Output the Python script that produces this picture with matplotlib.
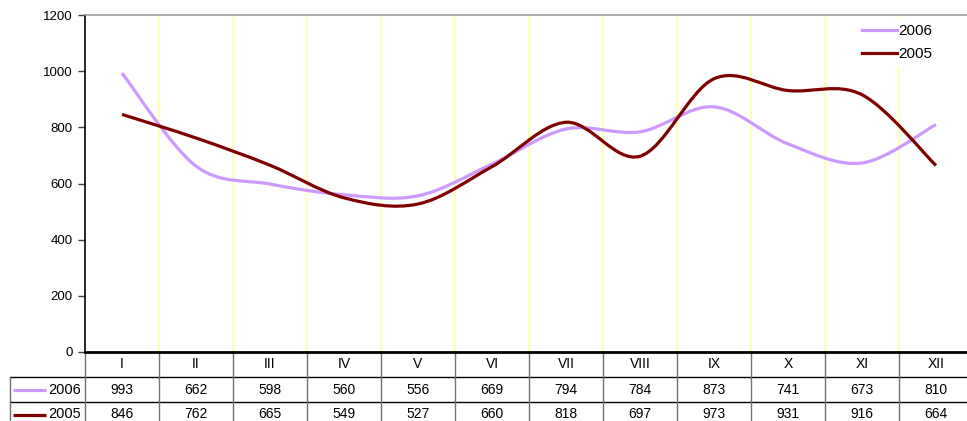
import matplotlib
matplotlib.use("Agg")
import matplotlib.pyplot as plt
import matplotlib.transforms as mtransforms
import numpy as np
from matplotlib.path import Path
from matplotlib.patches import PathPatch
from matplotlib.lines import Line2D

plt.rcParams['font.family'] = ['Liberation Sans', 'DejaVu Sans']

months = ['I', 'II', 'III', 'IV', 'V', 'VI', 'VII', 'VIII', 'IX', 'X', 'XI', 'XII']
series_names = ['2006', '2005']
vals_2006 = [993, 662, 598, 560, 556, 669, 794, 784, 873, 741, 673, 810]
vals_2005 = [846, 762, 665, 549, 527, 660, 818, 697, 973, 931, 916, 664]
colors = ['#cc99ff', '#800000']


def smooth_path(xs, ys):
    # bezier path through the points, like excel "smoothed line"
    pts = np.column_stack([xs, ys]).astype(float)
    n = len(pts)
    verts = [pts[0]]
    codes = [Path.MOVETO]
    for i in range(n - 1):
        p0 = pts[i - 1] if i > 0 else pts[i]
        p1 = pts[i]
        p2 = pts[i + 1]
        p3 = pts[i + 2] if i + 2 < n else pts[i + 1]
        c1 = p1 + (p2 - p0) / 6.0
        c2 = p2 - (p3 - p1) / 6.0
        verts += [c1, c2, p2]
        codes += [Path.CURVE4] * 3
    return Path(verts, codes)


W, H = 967, 421
fig = plt.figure(figsize=(W / 100, H / 100), dpi=100)
ax = fig.add_axes([85 / W, 1 - 352 / H, 888 / W, 337 / H])

x = np.arange(len(months))
for vals, c in zip([vals_2006, vals_2005], colors):
    patch = PathPatch(smooth_path(x, vals), facecolor='none', edgecolor=c, lw=2.3,
                      capstyle='butt', joinstyle='round', zorder=3)
    ax.add_patch(patch)

ax.set_xlim(-0.5, len(months) - 0.5)
ax.set_ylim(0, 1200)
ax.set_yticks(range(0, 1201, 200))
ax.set_xticks([])
for b in np.arange(0.5, len(months) - 0.5, 1):
    ax.axvline(b, color='#ffffaa', lw=1.3, zorder=1)

ax.spines['right'].set_visible(False)
ax.spines['top'].set_color('#a0a0a0')
ax.spines['top'].set_linewidth(1.2)
ax.spines['left'].set_color('black')
ax.spines['left'].set_linewidth(1.2)
ax.spines['bottom'].set_color('black')
ax.spines['bottom'].set_linewidth(2)
ax.tick_params(axis='y', direction='out', length=5, width=1, color='#404040',
               labelsize=9.5, pad=4)

# legend
handles = [Line2D([], [], color=c, lw=2.3) for c in colors]
leg = ax.legend(handles, series_names, loc='upper left',
                bbox_to_anchor=((853 - 85) / 888, 1.0), borderaxespad=0.2,
                frameon=True, fontsize=11, handlelength=2.3, handletextpad=0.05,
                labelspacing=0.6, fancybox=False)
leg.get_frame().set_edgecolor('none')
leg.get_frame().set_facecolor('white')
leg.get_frame().set_alpha(1)
leg.set_zorder(6)

# data table under the axis
trans = mtransforms.blended_transform_factory(ax.transData, ax.transAxes)
row_h = 25 / 337
lab_left = -0.5 - 75 / 74  # in category units
kw = dict(transform=trans, clip_on=False, lw=1)
# horizontal rules
for k in (1, 2):
    ax.plot([lab_left, len(months) - 0.5], [-k * row_h, -k * row_h], color='black', **kw)
# vertical rules
ax.plot([lab_left, lab_left], [-row_h, -3 * row_h], color='#707070', **kw)
for b in np.arange(-0.5, len(months), 1):
    ax.plot([b, b], [0, -3 * row_h], color='#707070', **kw)

for j, m in enumerate(months):
    ax.text(j, -0.5 * row_h, m, transform=trans, ha='center', va='center', fontsize=10)
for i, (name, vals, c) in enumerate(zip(series_names, [vals_2006, vals_2005], colors)):
    yc = -(i + 1.5) * row_h
    ax.text(-0.56, yc, name, transform=trans, ha='right', va='center', fontsize=10.5)
    ax.plot([lab_left + 0.04, lab_left + 0.48], [yc, yc], color=c, lw=2.3,
            transform=trans, clip_on=False, solid_capstyle='butt')
    for j, v in enumerate(vals):
        ax.text(j, yc, str(v), transform=trans, ha='center', va='center', fontsize=10)

fig.savefig('out.png', dpi=100)
